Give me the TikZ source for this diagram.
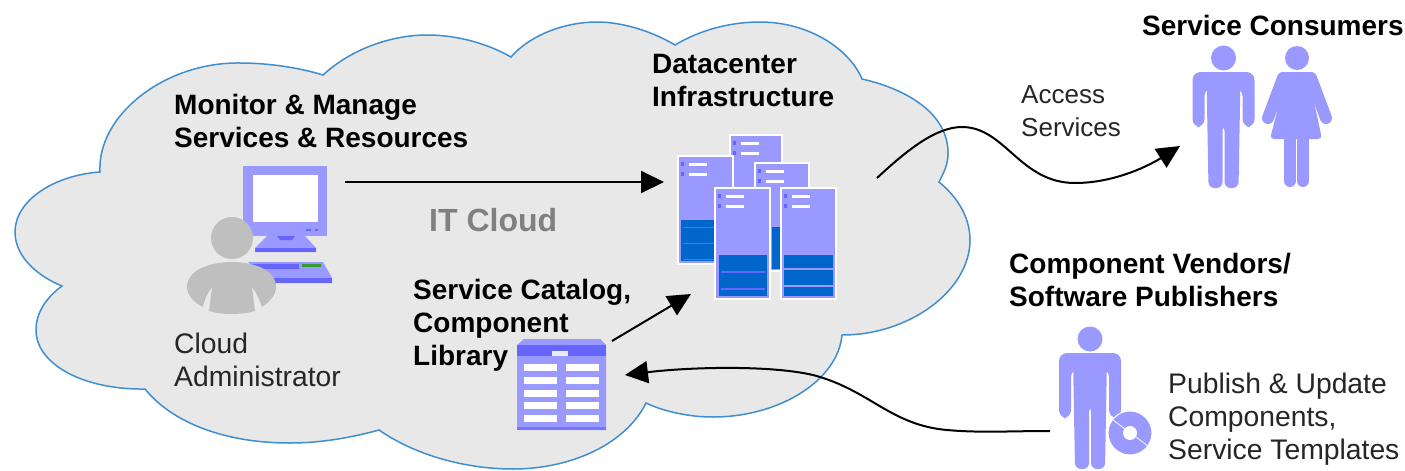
\documentclass[tikz,border=0pt]{standalone}
\usepackage{fontspec}
\setmainfont{Liberation Sans}
\usetikzlibrary{arrows.meta}
\definecolor{cloudfill}{HTML}{E8E8E8}
\definecolor{cloudline}{HTML}{3F8FD0}
\definecolor{peri}{HTML}{9999FF}
\definecolor{perid}{HTML}{6666FF}
\definecolor{srvblue}{HTML}{0066CC}
\definecolor{admin}{HTML}{BFBFBF}
\definecolor{labelgray}{HTML}{808080}
\definecolor{txt}{HTML}{262626}
\tikzset{
 lab/.style={font=\fontsize{28.3}{33}\selectfont,text=txt,align=left,inner sep=0pt,anchor=west},
 blab/.style={lab,font=\fontsize{28}{33}\selectfont\bfseries,text=black},
 conn/.style={line width=2pt,draw=black,-{Triangle[length=23pt,width=22pt,fill=black]}},
 limb/.style={line cap=round,draw=peri,line width=12pt},
}
\newcommand{\srv}[5]{%
 \fill[peri,draw=white,line width=1.2pt] (#1,#2) rectangle ++(#3,#4);
 \fill[white] ({#1+11},{#2+7}) rectangle ++(18,2.5);
 \fill[white] ({#1+11},{#2+17}) rectangle ++(18,2.5);
 \fill[perid] ({#1+3},{#2+6}) rectangle ++(3,4);
 \fill[perid] ({#1+3},{#2+16}) rectangle ++(3,4);
 #5
}
\newcommand{\maleperson}[2]{\begin{scope}[shift={#1}]
 \fill[peri] (0,-14) circle (12.5);
 \fill[peri,rounded corners=8pt] (-31,0) -- (31,0) -- (31,#2) -- (19,#2) -- (19,16) -- (0,16) -- (-19,16) -- (-19,#2) -- (-31,#2) -- cycle;
 \fill[peri,rounded corners=6pt] (-17,5) -- (17,5) -- (15,116) -- (1,116) -- (1,53) -- (-1,53) -- (-1,116) -- (-15,116) -- cycle;
\end{scope}}
\begin{document}
\begin{tikzpicture}[x=1pt,y=-1pt]
\useasboundingbox (0,0) rectangle (1405,471);
\fill[white] (0,0) rectangle (1405,471);
% cloud
\path[fill=cloudfill,draw=cloudline,line width=1.5pt] (100,172)
 .. controls (97,115) and (165,62) .. (240,63)
 .. controls (270,63) and (300,68) .. (323,75)
 .. controls (350,50) and (390,35) .. (427,35)
 .. controls (460,35) and (490,45) .. (511,57)
 .. controls (530,35) and (565,22) .. (597,22)
 .. controls (625,22) and (655,33) .. (675,45)
 .. controls (700,30) and (730,22) .. (760,22)
 .. controls (810,22) and (850,50) .. (862,79)
 .. controls (910,90) and (948,115) .. (948,153)
 .. controls (948,165) and (944,172) .. (939,182)
 .. controls (955,195) and (970,215) .. (970,240)
 .. controls (970,290) and (910,335) .. (842,335)
 .. controls (838,380) and (780,417) .. (713,417)
 .. controls (690,417) and (665,412) .. (646,403)
 .. controls (625,445) and (570,469) .. (513,469)
 .. controls (465,469) and (415,455) .. (379,430)
 .. controls (350,438) and (320,443) .. (290,443)
 .. controls (220,443) and (170,420) .. (145,389)
 .. controls (85,390) and (36,365) .. (36,330)
 .. controls (36,312) and (47,297) .. (62,286)
 .. controls (35,275) and (15,255) .. (15,232)
 .. controls (15,200) and (55,175) .. (100,172) -- cycle;
% coordinates
\coordinate (adminOut) at (345,182);
\coordinate (dcIn) at (664,182);
\coordinate (dcOut) at (877,178);
\coordinate (consIn) at (1180,146);
\coordinate (catOut) at (612,341);
\coordinate (dcIn2) at (691,294);
\coordinate (pubOut) at (1050,431);
\coordinate (catIn) at (625,375);
% connectors
\draw[conn] (adminOut) -- (dcIn);
\draw[conn] (catOut) -- (dcIn2);
\draw[conn] (dcOut) .. controls (905,152) and (935,127) .. (962,127) .. controls (1005,127) and (1020,183) .. (1075,183) .. controls (1115,183) and (1150,165) .. (consIn);
\draw[conn] (pubOut) .. controls (1010,431) and (980,433) .. (947,430) .. controls (890,425) and (870,390) .. (813,375) .. controls (770,365) and (690,367) .. (catIn);
% monitor
\fill[peri] (243,166) rectangle (327,236);
\fill[white] (253,175) rectangle (318,222);
\fill[peri] (267,236) -- (305,236) -- (316,248) -- (316,252) -- (255,252) -- (255,248) -- cycle;
\fill[perid] (255,248) rectangle (316,252);
\fill[perid] (277,236) -- (295,236) -- (292,240) -- (280,240) -- cycle;
\fill[perid] (306,229) rectangle (311,231);
\fill[perid] (315,229) rectangle (318,231);
\fill[peri] (248,262) -- (323,262) -- (332,278) -- (332,283) -- (270,283) -- cycle;
\fill[perid] (250,264) rectangle (299,269);
\fill[green!50!black!80] (302,264) rectangle (321,267);
\fill[perid] (270,278) rectangle (332,283);
% admin person
\fill[admin] (232,238) circle (21);
\path[fill=admin] (187,287) .. controls (187,270) and (210,262) .. (232,262) .. controls (254,262) and (276,270) .. (276,287) .. controls (276,296) and (268,303) .. (262,307) .. controls (259,298) and (256,292) .. (252,287) -- (255,311) .. controls (240,315) and (222,315) .. (209,311) -- (212,287) .. controls (208,292) and (205,298) .. (203,307) .. controls (195,303) and (187,296) .. (187,287) -- cycle;
% servers
\srv{730}{135}{52}{130}{}
\srv{678}{156}{55}{108}{\fill[srvblue] (681,220) rectangle (730,261);\fill[perid] (683,227) rectangle (730,228);\fill[perid] (683,243) rectangle (730,244);\fill[perid] (683,259) rectangle (730,260);}
\srv{755}{163}{54}{108}{\fill[srvblue] (772,227) rectangle (806,269);}
\srv{715}{188}{55}{111}{\fill[srvblue] (719,255) rectangle (767,296);\fill[perid] (721,271) rectangle (765,272.5);\fill[perid] (721,288) rectangle (765,289.5);}
\srv{781}{188}{55}{111}{\fill[srvblue] (784,255) rectangle (833,296);\fill[peri] (784,268) rectangle (833,270);\fill[peri] (784,285) rectangle (833,287);}
% catalog
\fill[peri] (517,345) -- (524,339) -- (600,339) -- (606,345) -- (606,430) -- (517,430) -- cycle;
\fill[perid] (517,345) rectangle (606,356);
\fill[white!80!peri] (552,351) rectangle (568,356);
\fill[perid!70!peri] (517,427) rectangle (606,430);
\foreach \yy in {367,380,393,405,418}{
 \fill[white] (524,\yy-3.5) rectangle (557,\yy+3.5);
 \fill[white] (566,\yy-3.5) rectangle (599,\yy+3.5);
}
% consumers
\maleperson{(1223.5,72)}{55}
\fill[peri] (1297,58) circle (12);
\path[fill=peri,rounded corners=4pt] (1282,72) -- (1312,72) -- (1311,88) -- (1322,139) -- (1270,139) -- (1283,88) -- cycle;
\draw[limb] (1283,78) -- (1268,118);
\draw[limb] (1311,78) -- (1326,118);
\draw[limb] (1290,139) -- (1290,181);
\draw[limb] (1303,139) -- (1303,181);
% vendor
\maleperson{(1090,353)}{65}
\fill[peri,draw=white,line width=1pt] (1130,433) circle (22);
\fill[white] (1130,433) circle (7);
\draw[white!80!peri,line width=1pt] (1113,420) -- (1125,429) (1136,437) -- (1148,446);
% labels
\node[blab] (mm) at (174,121) {Monitor \& Manage\\Services \& Resources};
\node[blab] (dc) at (652,81) {Datacenter\\Infrastructure};
\node[blab] (cat) at (413,325) {Service Catalog,\\Component\\Library};
\node[blab] (sc) at (1142,25) {Service Consumers};
\node[blab] (cv) at (1009,280) {Component Vendors/\\Software Publishers};
\node[lab] (ca) at (174,360) {Cloud\\Administrator};
\node[lab,font=\fontsize{26}{33}\selectfont] (as) at (1021,111) {Access\\Services};
\node[lab] (pu) at (1168,419) {Publish \& Update\\Components,\\Service Templates};
\node[lab,font=\fontsize{32}{33}\selectfont\bfseries,text=labelgray] (it) at (429,220) {IT Cloud};
\end{tikzpicture}
\end{document}
